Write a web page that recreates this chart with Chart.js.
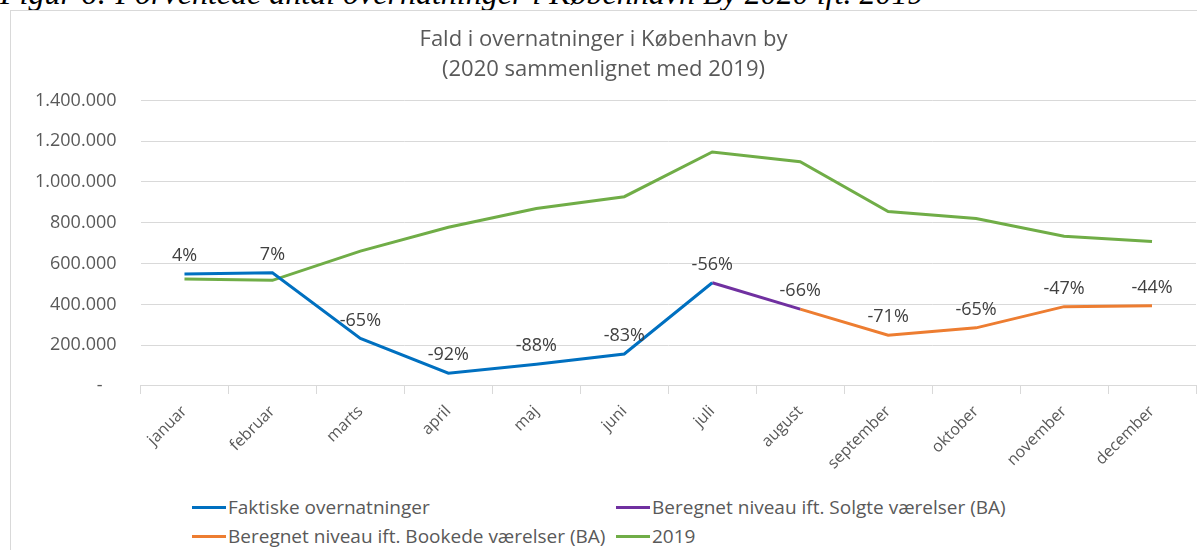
<!DOCTYPE html>
<html>
<head>
<meta charset="utf-8">
<script src="https://cdn.jsdelivr.net/npm/chart.js@4.4.1/dist/chart.umd.min.js"></script>
<style>
  html, body { margin: 0; padding: 0; background: #fff; overflow: hidden; }
  body { width: 1197px; height: 550px; position: relative; }
  #caption {
    position: absolute; left: 0; top: -21px; white-space: nowrap;
    font: italic 32px "Liberation Serif", serif; line-height: 28px; color: #000;
  }
  #frame {
    position: absolute; left: 10px; top: 10px; width: 1200px; height: 560px;
    border-left: 1px solid #d9d9d9; border-top: 1px solid #d9d9d9;
  }
  #wrap { position: absolute; left: 0; top: 0; width: 1200px; height: 470px; }
  #legend {
    position: absolute; left: 192px; top: 494px; width: 880px;
    font: 19px "Open Sans", sans-serif; color: #595959;
    display: grid; grid-template-columns: 424px 424px; row-gap: 3px;
  }
  .item { display: flex; align-items: center; white-space: nowrap; }
  .swatch { width: 34px; height: 3px; margin-right: 2px; }
</style>
</head>
<body>
<div id="caption">Figur 6: Forventede antal overnatninger i København By 2020 ift. 2019</div>
<div id="frame">
  <div id="wrap"><canvas id="chart"></canvas></div>
</div>
<div id="legend"></div>
<script>
// months on the x axis
const months = ['januar', 'februar', 'marts', 'april', 'maj', 'juni', 'juli',
  'august', 'september', 'oktober', 'november', 'december'];

// 2020 actual overnight stays (jan - jul)
const faktiske = [549000, 555000, 233000, 63000, 107000, 157000, 506000,
  null, null, null, null, null];
// estimated via sold rooms (jul - aug)
const solgte = [null, null, null, null, null, null, 506000, 377000,
  null, null, null, null];
// estimated via booked rooms (aug - dec)
const bookede = [null, null, null, null, null, null, null, 377000,
  249000, 285000, 389000, 393000];
// 2019 level
const niveau2019 = [525000, 518000, 661000, 778000, 870000, 928000,
  1147000, 1099000, 855000, 821000, 734000, 708000];

// change vs 2019, shown above the 2020 line
const pctLabels = ['4%', '7%', '-65%', '-92%', '-88%', '-83%', '-56%',
  '-66%', '-71%', '-65%', '-47%', '-44%'];

const seriesNames = ['Faktiske overnatninger', 'Beregnet niveau ift. Solgte værelser (BA)',
  'Beregnet niveau ift. Bookede værelser (BA)', '2019'];
const seriesColors = ['#0070C0', '#7030A0', '#ED7D31', '#70AD47'];

const FONT = '"Open Sans", sans-serif';

function fmtDots(v) {
  if (v === 0) return '-   ';
  return String(v).replace(/\B(?=(\d{3})+(?!\d))/g, '.');
}

// draws the percentage labels over the 2020 points
const pctPlugin = {
  id: 'pctPlugin',
  afterDatasetsDraw(chart) {
    const ctx = chart.ctx;
    ctx.save();
    ctx.font = '18px ' + FONT;
    ctx.fillStyle = '#404040';
    ctx.textAlign = 'center';
    ctx.textBaseline = 'bottom';
    pctLabels.forEach((txt, i) => {
      for (let d = 0; d < 3; d++) {
        const val = chart.data.datasets[d].data[i];
        if (val !== null) {
          const pt = chart.getDatasetMeta(d).data[i];
          ctx.fillText(txt, pt.x, pt.y - 9);
          break;
        }
      }
    });
    ctx.restore();
  }
};

const allData = [faktiske, solgte, bookede, niveau2019];

new Chart(document.getElementById('chart'), {
  type: 'line',
  data: {
    labels: months,
    datasets: allData.map((d, i) => ({
      label: seriesNames[i],
      data: d,
      borderColor: seriesColors[i],
      backgroundColor: seriesColors[i],
      borderWidth: 3,
      pointRadius: 0,
      tension: 0,
      spanGaps: false,
      order: i === 3 ? 4 : i
    }))
  },
  options: {
    responsive: true,
    maintainAspectRatio: false,
    animation: false,
    layout: { padding: { left: 0, right: 15, top: 14, bottom: 0 } },
    plugins: {
      legend: { display: false },
      tooltip: { enabled: false },
      title: {
        display: true,
        text: ['Fald i overnatninger i København by', '(2020 sammenlignet med 2019)'],
        color: '#595959',
        font: { family: FONT, size: 22, weight: 'normal', lineHeight: 1.35 },
        padding: { top: 0, bottom: 16 }
      }
    },
    scales: {
      y: {
        min: 0,
        max: 1400000,
        ticks: {
          stepSize: 200000,
          color: '#595959',
          font: { family: FONT, size: 18 },
          padding: 24,
          callback: v => fmtDots(v)
        },
        grid: { color: '#d9d9d9', drawTicks: false },
        border: { display: false }
      },
      x: {
        offset: true,
        ticks: {
          color: '#595959',
          font: { family: FONT, size: 16 },
          minRotation: 45,
          maxRotation: 45,
          padding: 8
        },
        grid: {
          offset: true,
          drawOnChartArea: false,
          color: '#d9d9d9',
          tickLength: 8
        },
        border: { color: '#d9d9d9' }
      }
    }
  },
  plugins: [pctPlugin]
});

// html legend in two columns like the original
const legend = document.getElementById('legend');
[0, 1, 2, 3].forEach(i => {
  const item = document.createElement('div');
  item.className = 'item';
  item.innerHTML = '<span class="swatch" style="background:' + seriesColors[i] + '"></span>' + seriesNames[i];
  legend.appendChild(item);
});
</script>
</body>
</html>
